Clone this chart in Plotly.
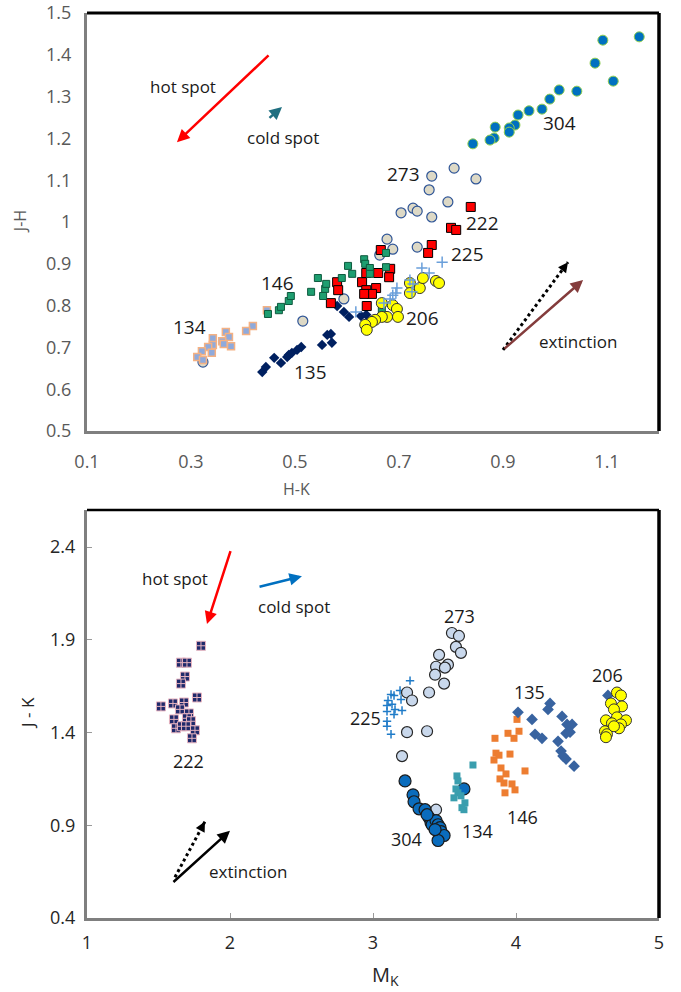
import plotly.graph_objects as go

# ---------------- Top panel: H-K vs J-H ----------------
t304_x = [1.092, 1.162, 1.077, 1.112, 1.008, 1.042, 0.990, 0.975, 0.950, 0.929, 0.923, 0.912, 0.912, 0.885, 0.883, 0.875, 0.842]
t304_y = [1.435, 1.443, 1.380, 1.337, 1.316, 1.313, 1.294, 1.270, 1.266, 1.256, 1.232, 1.225, 1.215, 1.227, 1.201, 1.196, 1.187]

t273_x = [0.763, 0.806, 0.848, 0.758, 0.794, 0.727, 0.735, 0.704, 0.763, 0.677, 0.688, 0.735, 0.663, 0.594, 0.515, 0.323]
t273_y = [1.110, 1.129, 1.103, 1.077, 1.048, 1.033, 1.026, 1.022, 1.012, 0.959, 0.935, 0.940, 0.921, 0.816, 0.763, 0.665]

t222_x = [0.838, 0.800, 0.810, 0.763, 0.756, 0.665, 0.581, 0.583, 0.569, 0.629, 0.637, 0.637, 0.660, 0.683, 0.681, 0.656, 0.648, 0.633, 0.638]
t222_y = [1.036, 0.986, 0.981, 0.945, 0.926, 0.933, 0.856, 0.837, 0.806, 0.856, 0.837, 0.878, 0.878, 0.888, 0.868, 0.842, 0.828, 0.828, 0.799]

t146_x = [0.448, 0.469, 0.473, 0.488, 0.492, 0.531, 0.544, 0.554, 0.558, 0.560, 0.590, 0.602, 0.610, 0.633, 0.635, 0.644, 0.644, 0.675, 0.675, 0.667]
t146_y = [0.780, 0.789, 0.797, 0.811, 0.823, 0.833, 0.866, 0.823, 0.840, 0.852, 0.866, 0.895, 0.876, 0.911, 0.900, 0.890, 0.876, 0.892, 0.926, 0.789]

t134_x = [0.446, 0.419, 0.406, 0.367, 0.373, 0.342, 0.360, 0.363, 0.377, 0.342, 0.333, 0.321, 0.340, 0.312, 0.323]
t134_y = [0.789, 0.751, 0.739, 0.737, 0.725, 0.722, 0.715, 0.708, 0.703, 0.706, 0.701, 0.691, 0.687, 0.677, 0.670]

t135_x = [0.437, 0.444, 0.460, 0.473, 0.485, 0.488, 0.494, 0.504, 0.512, 0.552, 0.562, 0.569, 0.571, 0.581, 0.594, 0.604, 0.627, 0.637]
t135_y = [0.641, 0.653, 0.675, 0.663, 0.677, 0.682, 0.687, 0.694, 0.701, 0.706, 0.730, 0.732, 0.711, 0.799, 0.785, 0.773, 0.775, 0.778]

t206_x = [0.721, 0.721, 0.740, 0.746, 0.771, 0.777, 0.667, 0.688, 0.696, 0.698, 0.677, 0.667, 0.654, 0.648, 0.635, 0.638]
t206_y = [0.854, 0.830, 0.842, 0.866, 0.859, 0.854, 0.806, 0.801, 0.792, 0.773, 0.773, 0.773, 0.766, 0.761, 0.754, 0.742]

t225_x = [0.783, 0.744, 0.758, 0.721, 0.727, 0.696, 0.694, 0.688, 0.683, 0.617, 0.725, 0.671]
t225_y = [0.904, 0.890, 0.878, 0.861, 0.852, 0.842, 0.830, 0.825, 0.816, 0.785, 0.833, 0.806]

# ---------------- Bottom panel: M_K vs J-K ----------------
b222_x = [1.797, 1.657, 1.699, 1.685, 1.657, 1.769, 1.517, 1.601, 1.678, 1.650, 1.713, 1.608, 1.699, 1.727, 1.622, 1.664, 1.755, 1.734, 1.692]
b222_y = [1.868, 1.777, 1.777, 1.702, 1.664, 1.589, 1.541, 1.557, 1.562, 1.525, 1.503, 1.471, 1.477, 1.461, 1.423, 1.434, 1.412, 1.369, 1.434]

b225_x = [3.259, 3.126, 3.147, 3.189, 3.105, 3.196, 3.098, 3.133, 3.154, 3.203, 3.098, 3.147, 3.098, 3.098, 3.126]
b225_y = [1.680, 1.605, 1.600, 1.627, 1.573, 1.578, 1.546, 1.552, 1.525, 1.519, 1.514, 1.498, 1.461, 1.434, 1.391]

b273_x = [3.552, 3.601, 3.580, 3.615, 3.462, 3.441, 3.524, 3.503, 3.434, 3.497, 3.392, 3.238, 3.273, 3.238, 3.378, 3.203, 3.441]
b273_y = [1.937, 1.921, 1.862, 1.830, 1.819, 1.755, 1.766, 1.750, 1.712, 1.664, 1.616, 1.616, 1.573, 1.402, 1.407, 1.273, 0.984]

b304_x = [3.224, 3.280, 3.287, 3.322, 3.364, 3.392, 3.406, 3.413, 3.441, 3.455, 3.469, 3.476, 3.497, 3.455, 3.636, 3.378, 3.434]
b304_y = [1.139, 1.064, 1.027, 0.989, 0.984, 0.941, 0.914, 0.903, 0.925, 0.903, 0.887, 0.866, 0.845, 0.818, 1.096, 0.957, 0.877]

b134_x = [3.699, 3.587, 3.594, 3.580, 3.594, 3.615, 3.643, 3.622, 3.636, 3.566]
b134_y = [1.225, 1.166, 1.139, 1.096, 1.075, 1.059, 1.021, 0.995, 0.984, 1.048]

b146_x = [4.007, 3.853, 3.944, 3.986, 4.021, 3.860, 3.881, 3.958, 3.846, 3.895, 4.063, 3.930, 3.888, 3.916, 3.972, 3.993, 3.923]
b146_y = [1.471, 1.369, 1.396, 1.369, 1.407, 1.289, 1.278, 1.284, 1.252, 1.209, 1.193, 1.177, 1.150, 1.128, 1.123, 1.091, 1.075]

b135_x = [4.014, 4.112, 4.238, 4.224, 4.322, 4.357, 4.392, 4.350, 4.378, 4.133, 4.182, 4.294, 4.315, 4.329, 4.350, 4.406, 4.643, 4.692]
b135_y = [1.509, 1.471, 1.557, 1.525, 1.487, 1.444, 1.444, 1.396, 1.402, 1.391, 1.369, 1.353, 1.300, 1.273, 1.257, 1.219, 1.600, 1.525]

b206_x = [4.706, 4.734, 4.664, 4.741, 4.685, 4.706, 4.769, 4.629, 4.671, 4.734, 4.622, 4.720, 4.636, 4.629, 4.685]
b206_y = [1.616, 1.600, 1.557, 1.541, 1.525, 1.482, 1.466, 1.466, 1.450, 1.444, 1.407, 1.423, 1.391, 1.375, 1.434]

# Tick values
top_xticks = [0.1, 0.3, 0.5, 0.7, 0.9, 1.1]
top_yticks = [0.5, 0.6, 0.7, 0.8, 0.9, 1.0, 1.1, 1.2, 1.3, 1.4, 1.5]
bot_xticks = [1, 2, 3, 4, 5]
bot_yticks = [0.4, 0.9, 1.4, 1.9, 2.4]

# Object labels (text, x, y) for each panel
top_labels = [("304", 1.008, 1.237), ("273", 0.708, 1.115), ("222", 0.860, 0.998),
              ("225", 0.831, 0.923), ("206", 0.746, 0.770), ("146", 0.467, 0.854),
              ("134", 0.298, 0.749), ("135", 0.529, 0.641)]
bot_labels = [("222", 1.713, 1.246), ("273", 3.608, 2.028), ("225", 2.951, 1.477),
              ("304", 3.231, 0.828), ("134", 3.734, 0.871), ("146", 4.042, 0.946),
              ("135", 4.091, 1.621), ("206", 4.643, 1.712)]

fig = go.Figure()

def add(x, y, xa, ya, symbol, size, color, lcolor=None, lwidth=0):
    fig.add_trace(go.Scatter(
        x=x, y=y, mode="markers", xaxis=xa, yaxis=ya, showlegend=False,
        marker=dict(symbol=symbol, size=size, color=color,
                    line=dict(color=lcolor if lcolor else color, width=lwidth))))

# top panel traces (draw order)
add(t273_x, t273_y, "x", "y", "circle", 10, "#DDD9C6", "#2F5597", 1.2)
add(t135_x, t135_y, "x", "y", "diamond", 8, "#002060")
add(t134_x, t134_y, "x", "y", "square", 7, "#8FAADC", "#F4B183", 1.5)
add(t222_x, t222_y, "x", "y", "square", 9, "#FF0000", "#000000", 1)
add(t146_x, t146_y, "x", "y", "square", 7, "#1E9E70", "#0E5A3E", 1)
add(t206_x, t206_y, "x", "y", "circle", 11, "#FFFF00", "#333333", 1)
add(t225_x, t225_y, "x", "y", "cross-thin-open", 8, "#6A9FDA", "#6A9FDA", 1.5)
add(t304_x, t304_y, "x", "y", "circle", 10, "#0070C0", "#92D050", 1)

# bottom panel traces
add(b222_x, b222_y, "x2", "y2", "square-cross", 9, "#1F2A6B", "#E8B4C0", 1)
add(b225_x, b225_y, "x2", "y2", "cross-thin-open", 6, "#1F7BC8", "#1F7BC8", 1.5)
add(b273_x, b273_y, "x2", "y2", "circle", 11, "#C9D8EC", "#262626", 1.2)
add(b304_x, b304_y, "x2", "y2", "circle", 12, "#0A6CBD", "#1A1A1A", 1.2)
add(b134_x, b134_y, "x2", "y2", "square", 7, "#3A9EAE")
add(b146_x, b146_y, "x2", "y2", "square", 7, "#ED7D31")
add(b135_x, b135_y, "x2", "y2", "diamond", 9, "#3863A0")
add(b206_x, b206_y, "x2", "y2", "circle", 11, "#FFFF00", "#333333", 1)

FONT = "Open Sans"
annotations = []

def txt(t, x, y, xr, yr, size=17, color="#1a1a1a", angle=0):
    annotations.append(dict(text=t, x=x, y=y, xref=xr, yref=yr, showarrow=False,
                            xanchor="center", yanchor="middle",
                            textangle=angle, font=dict(family=FONT, size=size, color=color)))

for t, x, y in top_labels:
    txt(t, x, y, "x", "y", 19)
for t, x, y in bot_labels:
    txt(t, x, y, "x2", "y2", 18)

def arrow(x0, y0, x1, y1, xr, yr, color, width=2.5):
    annotations.append(dict(text="", x=x1, y=y1, ax=x0, ay=y0, xref=xr, yref=yr,
                            axref=xr, ayref=yr, showarrow=True, arrowhead=2,
                            arrowsize=1, arrowwidth=width, arrowcolor=color))

shapes = []
def dotted_arrow(x0, y0, x1, y1, xr, yr):
    shapes.append(dict(type="line", x0=x0, y0=y0, x1=x1, y1=y1, xref=xr, yref=yr,
                       line=dict(color="black", width=3, dash="dot")))
    arrow(x0 + 0.9 * (x1 - x0), y0 + 0.9 * (y1 - y0), x1, y1, xr, yr, "black", 2)

# top panel annotations
txt("hot spot", 0.285, 1.325, "x", "y")
arrow(0.452, 1.402, 0.273, 1.191, "x", "y", "#FF0000", 2.5)
txt("cold spot", 0.477, 1.203, "x", "y")
arrow(0.448, 1.246, 0.475, 1.275, "x", "y", "#1F6F80", 2.5)
txt("extinction", 1.044, 0.713, "x", "y")
dotted_arrow(0.9, 0.694, 1.025, 0.904, "x", "y")
arrow(0.9, 0.694, 1.054, 0.861, "x", "y", "#843C3C", 2.5)

# bottom panel annotations
txt("hot spot", 1.615, 2.232, "x2", "y2")
arrow(2.007, 2.387, 1.839, 1.985, "x2", "y2", "#FF0000", 2.5)
txt("cold spot", 2.448, 2.082, "x2", "y2")
arrow(2.196, 2.184, 2.503, 2.243, "x2", "y2", "#0070C0", 2.5)
txt("extinction", 2.126, 0.652, "x2", "y2")
dotted_arrow(1.615, 0.620, 1.825, 0.920, "x2", "y2")
arrow(1.594, 0.587, 2.0, 0.871, "x2", "y2", "black", 2.5)

# axis titles
txt("H-K", 0.367, 0.474, "paper", "paper", 16, "#595959")
txt("J-H", -0.117, 0.769, "paper", "paper", 16, "#595959", -90)
txt("J - K", -0.105, 0.2265, "paper", "paper", 17, "#262626", -90)
txt("M<sub>K</sub>", 0.521, -0.063, "paper", "paper", 20, "#262626")

# frame: top & right black borders
for xr, yr, w in [("x domain", "y domain", 3), ("x2 domain", "y2 domain", 2.5)]:
    shapes.append(dict(type="line", x0=0, y0=1, x1=1, y1=1, xref=xr, yref=yr,
                       line=dict(color="black", width=w)))
    shapes.append(dict(type="line", x0=1, y0=0, x1=1, y1=1, xref=xr, yref=yr,
                       line=dict(color="black", width=3.5)))

tickfont_top = dict(family=FONT, size=18, color="#595959")
tickfont_bot = dict(family=FONT, size=18, color="#262626")

fig.update_layout(
    width=681, height=992,
    margin=dict(l=87, r=22, t=13, b=74, autoexpand=False),
    paper_bgcolor="white", plot_bgcolor="white",
    annotations=annotations, shapes=shapes,
    xaxis=dict(domain=[0, 1], anchor="y", range=[0.1, 1.2], tickvals=top_xticks,
               ticktext=[f"{v:g}" for v in top_xticks], showgrid=False, zeroline=False,
               showline=True, linecolor="#7F7F7F", linewidth=3, ticks="", automargin=False,
               tickfont=tickfont_top, ticklabelstandoff=12),
    yaxis=dict(domain=[0.5381, 1], anchor="x", range=[0.5, 1.5], tickvals=top_yticks,
               ticktext=[f"{v:g}" for v in top_yticks], showgrid=False, zeroline=False,
               showline=True, linecolor="#7F7F7F", linewidth=3, ticks="", automargin=False,
               tickfont=tickfont_top, ticklabelstandoff=9),
    xaxis2=dict(domain=[0, 1], anchor="y2", range=[1, 5], tickvals=bot_xticks,
                ticktext=[f"{v:g}" for v in bot_xticks], showgrid=False, zeroline=False,
                showline=True, linecolor="#7F7F7F", linewidth=3, ticks="inside", automargin=False,
                ticklen=5, tickcolor="#9a9a9a", tickfont=tickfont_bot, ticklabelstandoff=6),
    yaxis2=dict(domain=[0, 0.4508], anchor="x2", range=[0.4, 2.6], tickvals=bot_yticks,
                ticktext=[f"{v:g}" for v in bot_yticks], showgrid=False, zeroline=False,
                showline=True, linecolor="#7F7F7F", linewidth=3, ticks="inside", automargin=False,
                ticklen=5, tickcolor="#9a9a9a", tickfont=tickfont_bot, ticklabelstandoff=5),
)

fig.write_html("out.html")
